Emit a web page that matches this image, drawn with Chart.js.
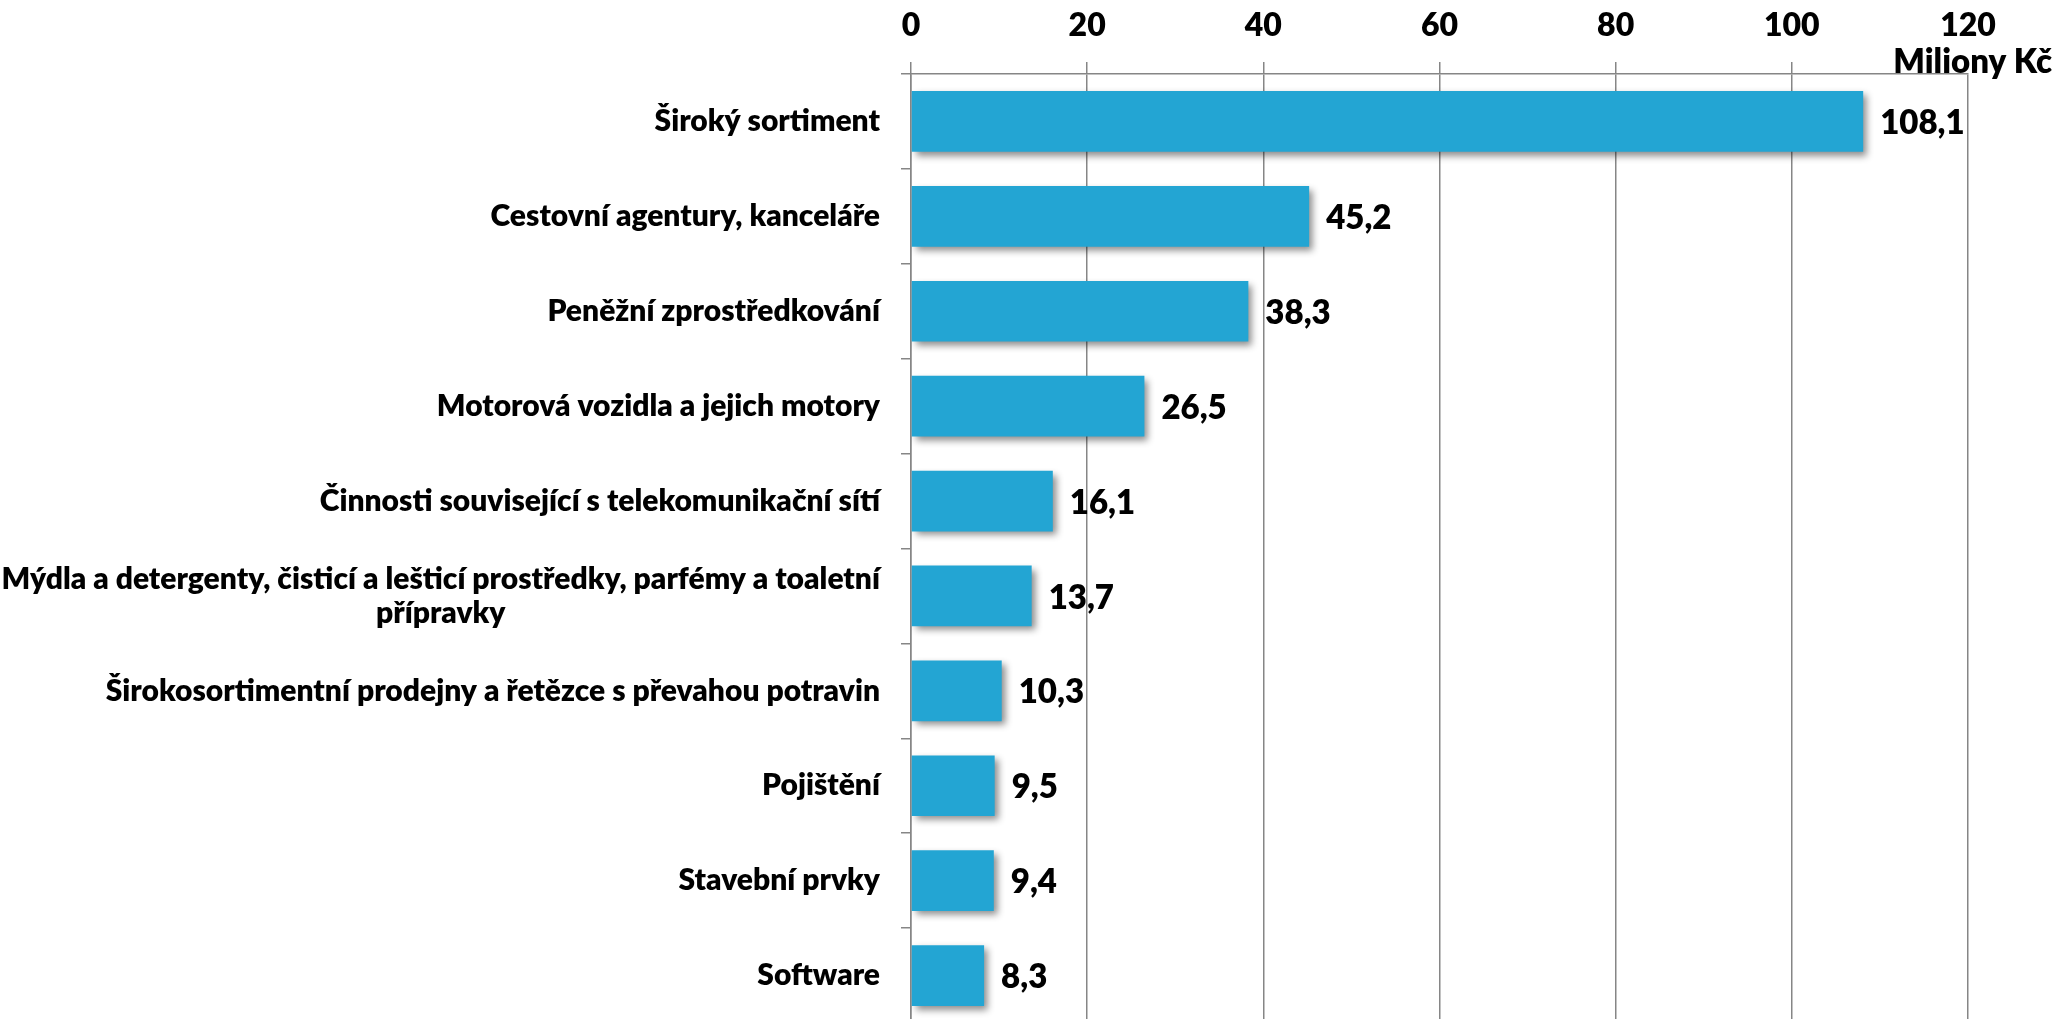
<!DOCTYPE html>
<html>
<head>
<meta charset="utf-8">
<script src="https://cdn.jsdelivr.net/npm/chart.js@4.4.0/dist/chart.umd.min.js"></script>
<style>
  body { margin: 0; overflow: hidden; background: #fff; }
  #wrap { position: absolute; left: 0; top: 0; width: 2059px; height: 1030px; }
</style>
</head>
<body>
<div id="wrap"><canvas id="chart"></canvas></div>
<script>
// categories, top to bottom
const categories = [
  "Široký sortiment",
  "Cestovní agentury, kanceláře",
  "Peněžní zprostředkování",
  "Motorová vozidla a jejich motory",
  "Činnosti související s telekomunikační sítí",
  ["Mýdla a detergenty, čisticí a lešticí prostředky, parfémy a toaletní", "přípravky"],
  "Širokosortimentní prodejny a řetězce s převahou potravin",
  "Pojištění",
  "Stavební prvky",
  "Software"
];
const values = [108.1, 45.2, 38.3, 26.5, 16.1, 13.7, 10.3, 9.5, 9.4, 8.3];
const xTicks = [0, 20, 40, 60, 80, 100, 120];
const unitLabel = "Miliony Kč";

const FONT = "Lato, 'Open Sans', sans-serif";
const W = "800";
const gridGray = "#868686";
const barBlue = "#23A5D3";

// soft drop shadow under bars
const barShadow = {
  id: "barShadow",
  beforeDatasetDraw(chart) {
    const ctx = chart.ctx;
    ctx.save();
    ctx.shadowColor = "rgba(0,0,0,0.45)";
    ctx.shadowBlur = 7;
    ctx.shadowOffsetX = 4;
    ctx.shadowOffsetY = 4;
  },
  afterDatasetDraw(chart) {
    chart.ctx.restore();
  }
};

// value labels right of bars, with comma decimals
const valueLabels = {
  id: "valueLabels",
  afterDatasetsDraw(chart) {
    const ctx = chart.ctx;
    const meta = chart.getDatasetMeta(0);
    ctx.save();
    ctx.font = W + " 33px " + FONT;
    ctx.fillStyle = "#000";
    ctx.textAlign = "left";
    ctx.textBaseline = "middle";
    meta.data.forEach((bar, i) => {
      ctx.fillText(values[i].toFixed(1).replace(".", ","), bar.x + 17, bar.y + 2);
    });
    ctx.restore();
  }
};

// category labels, lines centred on each other like the original
const catLabels = {
  id: "catLabels",
  afterDraw(chart) {
    const ctx = chart.ctx;
    const y = chart.scales.y;
    const right = chart.chartArea.left - 31;
    const lh = 34;
    ctx.save();
    ctx.font = W + " 30px " + FONT;
    ctx.fillStyle = "#000";
    ctx.textAlign = "center";
    ctx.textBaseline = "middle";
    categories.forEach((c, i) => {
      const lines = Array.isArray(c) ? c : [c];
      const w = Math.max(...lines.map(l => ctx.measureText(l).width));
      const cy = y.getPixelForValue(i);
      lines.forEach((l, j) => {
        ctx.fillText(l, right - w / 2, cy + (j - (lines.length - 1) / 2) * lh);
      });
    });
    ctx.restore();
  }
};

// unit label under the top axis numbers
const unitTitle = {
  id: "unitTitle",
  afterDraw(chart) {
    const ctx = chart.ctx;
    ctx.save();
    ctx.font = W + " 33px " + FONT;
    ctx.fillStyle = "#000";
    ctx.textAlign = "right";
    ctx.textBaseline = "alphabetic";
    ctx.fillText(unitLabel, chart.width - 7, 73);
    ctx.restore();
  }
};

new Chart(document.getElementById("chart"), {
  type: "bar",
  data: {
    labels: categories,
    datasets: [{
      data: values,
      backgroundColor: barBlue,
      borderWidth: 0,
      barPercentage: 0.64,
      categoryPercentage: 1.0
    }]
  },
  options: {
    indexAxis: "y",
    responsive: true,
    maintainAspectRatio: false,
    animation: false,
    layout: { padding: { left: 0, right: 91, top: 0, bottom: 7 } },
    plugins: {
      legend: { display: false },
      tooltip: { enabled: false }
    },
    scales: {
      x: {
        type: "linear",
        position: "top",
        min: xTicks[0],
        max: xTicks[xTicks.length - 1],
        afterBuildTicks: s => { s.ticks = xTicks.map(v => ({ value: v })); },
        afterFit: s => { s.height = 74; },
        ticks: {
          color: "#000",
          font: { family: FONT, size: 32, weight: W },
          padding: 17
        },
        grid: {
          color: gridGray,
          lineWidth: 1.5,
          tickLength: 12,
          tickColor: c => (c.index === xTicks.length - 1 ? "rgba(0,0,0,0)" : gridGray)
        },
        border: { display: true, color: gridGray, width: 1.5 }
      },
      y: {
        type: "category",
        afterFit: s => { s.width = 911; },
        ticks: { display: false },
        grid: {
          drawOnChartArea: false,
          drawTicks: true,
          tickLength: 10,
          color: gridGray,
          lineWidth: 1.5
        },
        border: { display: true, color: gridGray, width: 1.5 }
      }
    }
  },
  plugins: [barShadow, valueLabels, catLabels, unitTitle]
});
</script>
</body>
</html>
